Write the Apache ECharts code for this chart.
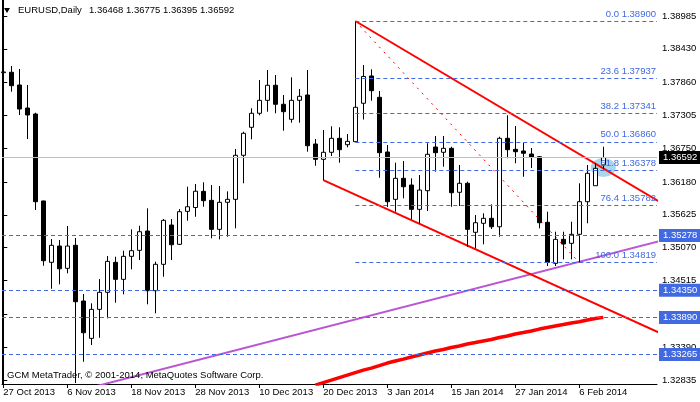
<!DOCTYPE html>
<html><head><meta charset="utf-8">
<script src="https://cdn.jsdelivr.net/npm/echarts@6/dist/echarts.min.js"></script>
<style>html,body{margin:0;padding:0;background:#fff}#c{width:700px;height:402px}</style>
</head><body><div id="c"></div>
<script>
const symbolName = 'EURUSD,Daily';
const copyrightText = 'GCM MetaTrader, \u00a9 2001-2014, MetaQuotes Software Corp.';
const tickLabels = ['27 Oct 2013','6 Nov 2013','18 Nov 2013','28 Nov 2013','10 Dec 2013','20 Dec 2013','3 Jan 2014','15 Jan 2014','27 Jan 2014','6 Feb 2014'];
const tickIndex = [0,8,16,24,32,40,48,56,64,72];
const priceTicks = [1.38985,1.38430,1.37860,1.37305,1.36750,1.36180,1.35625,1.35070,1.34515,1.33945,1.33390,1.32835];

const opens = [1.38027,1.38034,1.37819,1.37430,1.37329,1.35859,1.34823,1.35098,1.34721,1.35110,
1.34169,1.33538,1.34028,1.34316,1.34823,1.34535,1.34924,1.35025,1.35352,1.34343,
1.34789,1.35453,1.35127,1.35684,1.35749,1.36022,1.35870,1.35380,1.35837,1.35887,
1.36631,1.37104,1.37341,1.37560,1.37814,1.37493,1.37239,1.37560,1.37650,1.36822,
1.36563,1.36682,1.36918,1.36810,1.36861,1.37510,1.37971,1.37611,1.36687,1.35887,
1.36242,1.36129,1.35718,1.36033,1.36771,1.36682,1.36749,1.36006,1.36158,1.35330,
1.35482,1.35566,1.35424,1.36918,1.36732,1.36704,1.36653,1.36607,1.35499,1.34806,
1.35211,1.35144,1.35296,1.35847,1.36117,1.36468];
const closes = [1.38039,1.37807,1.37413,1.37312,1.35847,1.34850,1.35110,1.34714,1.35098,1.34157,
1.33633,1.34028,1.34316,1.34839,1.34535,1.34924,1.35019,1.35340,1.34343,1.34789,
1.35532,1.35120,1.35678,1.35762,1.36024,1.35864,1.35380,1.35837,1.35887,1.36631,
1.37003,1.37341,1.37560,1.37814,1.37493,1.37368,1.37560,1.37628,1.36793,1.36563,
1.36682,1.36918,1.36726,1.36867,1.37442,1.37963,1.37723,1.36675,1.35847,1.36242,
1.36100,1.35718,1.36044,1.36648,1.36675,1.36749,1.35999,1.36158,1.35380,1.35492,
1.35566,1.35424,1.36918,1.36726,1.36692,1.36665,1.36597,1.35492,1.34823,1.35211,
1.35132,1.35296,1.35847,1.36327,1.36411,1.36592];
const lows = [1.38005,1.37706,1.37312,1.36906,1.35706,1.34765,1.34376,1.34451,1.34637,1.32783,
1.33143,1.33425,1.33548,1.33876,1.34140,1.34282,1.34704,1.34861,1.34113,1.33961,
1.34579,1.34861,1.35115,1.35526,1.35593,1.35762,1.35228,1.35211,1.35255,1.35397,
1.36158,1.36901,1.37307,1.37368,1.37341,1.37047,1.37182,1.37182,1.36692,1.36455,
1.36213,1.36619,1.36506,1.36766,1.36856,1.37236,1.37554,1.36252,1.35757,1.35678,
1.35904,1.35549,1.35482,1.35690,1.36354,1.36438,1.35762,1.35774,1.35086,1.35059,
1.35127,1.35385,1.35255,1.36580,1.36496,1.36269,1.36416,1.35397,1.34760,1.34760,
1.34873,1.34873,1.34819,1.35482,1.36117,1.36395];
const highs = [1.38056,1.38140,1.38089,1.37819,1.37351,1.35865,1.35216,1.35199,1.35436,1.35233,
1.34287,1.34130,1.34540,1.34929,1.34917,1.35019,1.35380,1.35441,1.35735,1.34833,
1.35554,1.35554,1.35723,1.36100,1.36146,1.36175,1.36129,1.36112,1.36022,1.36737,
1.37030,1.37425,1.37903,1.38072,1.37988,1.37650,1.37949,1.37751,1.38072,1.36906,
1.37058,1.37121,1.37104,1.36991,1.38900,1.38157,1.38084,1.37718,1.36805,1.36506,
1.36535,1.36242,1.36298,1.36834,1.36957,1.36957,1.36776,1.36467,1.36185,1.35622,
1.35651,1.35803,1.36945,1.37307,1.37126,1.36844,1.36754,1.36619,1.35678,1.35340,
1.35340,1.35509,1.36158,1.36467,1.36496,1.36775];

const maStart = 39;
const maValues = [1.32749,1.32791,1.32833,1.32876,1.32918,1.32960,1.33002,1.33036,1.33078,1.33121,
1.33155,1.33188,1.33222,1.33256,1.33290,1.33324,1.33349,1.33383,1.33408,1.33442,
1.33467,1.33493,1.33518,1.33552,1.33577,1.33611,1.33636,1.33662,1.33695,1.33721,
1.33746,1.33771,1.33797,1.33819,1.33847,1.33873,1.33893];

const fibLevels = [0.0, 23.6, 38.2, 50.0, 61.8, 76.4, 100.0];
const fibPrices = [1.38900, 1.37937, 1.37341, 1.36860, 1.36378, 1.35782, 1.34819];
const fibStartIndex = 44;
const hLevels = [1.35278, 1.34350, 1.33890, 1.33265];
const lastPrice = 1.36592;
const channelUpper = [[44, 1.38900], [82, 1.35849]];
const channelLower = [[40, 1.36213], [82, 1.33635]];
const fibDiagonal = [[44, 1.38900], [72, 1.34819]];
const purpleTrend = [[10, 1.32674], [82, 1.35180]];
const ellipsePoint = [[75, 1.36425]];

const FONT = 'Liberation Sans';
const xMin = -0.1625, xMax = 81.7125;
const yMin = 1.32767, yMax = 1.39255;

const chart = echarts.init(document.getElementById('c'));
const candleData = opens.map((o, i) => [i, o, closes[i], lows[i], highs[i]]);
const maData = maValues.map((v, i) => [maStart + i, v]);
const last = opens.length - 1;

function boxLabel(v, bg) {
  return { show: true, position: 'end', formatter: v.toFixed(5), backgroundColor: bg, color: '#fff',
    padding: [2, 6, 1, 4], distance: 2, fontSize: 9.5, fontFamily: FONT };
}

chart.setOption({
  animation: false,
  backgroundColor: '#ffffff',
  grid: { left: 2, top: 0, width: 655, height: 384, containLabel: false },
  xAxis: {
    type: 'value', min: xMin, max: xMax,
    axisLine: { show: true, lineStyle: { color: '#000', width: 1 } },
    axisTick: { show: true, customValues: tickIndex, length: 4, inside: false, lineStyle: { color: '#000' } },
    axisLabel: { show: true, customValues: tickIndex, formatter: v => tickLabels[tickIndex.indexOf(Math.round(v))] || '',
      align: 'left', margin: 3, color: '#000', fontSize: 9.5, fontFamily: FONT },
    splitLine: { show: false }
  },
  yAxis: [{
    type: 'value', position: 'right', min: yMin, max: yMax,
    axisLine: { show: true, lineStyle: { color: '#000', width: 1 } },
    axisTick: { show: true, customValues: priceTicks, length: 4, lineStyle: { color: '#000' } },
    axisLabel: { show: true, customValues: priceTicks, formatter: v => v.toFixed(5), margin: 5,
      color: '#000', fontSize: 9.5, fontFamily: FONT },
    splitLine: { show: false }
  }, {
    type: 'value', position: 'left', min: yMin, max: yMax,
    axisLine: { show: true, lineStyle: { color: '#000', width: 1 } },
    axisTick: { show: false }, axisLabel: { show: false }, splitLine: { show: false }
  }],
  graphic: [
    { type: 'polygon', shape: { points: [[4, 8], [10, 8], [7, 13]] }, style: { fill: '#000' } },
    { type: 'text', left: 18, top: 5, style: { text: symbolName, fill: '#000', font: '9.5px "' + FONT + '"' } },
    { type: 'text', left: 89, top: 5, style: { text: [opens[last], highs[last], lows[last], closes[last]].map(v => v.toFixed(5)).join(' '), fill: '#000', font: '9.5px "' + FONT + '"' } },
    { type: 'text', left: 7, top: 370, z: 100, style: { text: copyrightText, fill: '#000', font: '9.5px "' + FONT + '"' } }
  ],
  series: [
    {
      name: 'levels', type: 'line', data: purpleTrend, symbol: 'none', lineStyle: { opacity: 0 }, z: 1,
      markLine: {
        silent: true, symbol: ['none', 'none'], animation: false,
        data: [
          ...hLevels.map(v => [
            { coord: [xMin, v], lineStyle: { color: '#4169E1', type: [4, 3], width: 1 }, label: boxLabel(v, '#4169E1') },
            { coord: [xMax, v] }
          ]),
          [
            { coord: [xMin, lastPrice], lineStyle: { color: '#C0C0C0', type: 'solid', width: 1 }, label: boxLabel(lastPrice, '#000') },
            { coord: [xMax, lastPrice] }
          ],
          ...fibPrices.map((p, i) => [
            { coord: [fibStartIndex, p], lineStyle: { color: '#4169E1', type: [4, 3], width: 1 },
              label: { show: true, position: 'insideEndTop', formatter: fibLevels[i].toFixed(1) + ' ' + p.toFixed(5),
                color: '#4169E1', fontSize: 9.5, fontFamily: FONT, distance: [1, 2] } },
            { coord: [xMax, p] }
          ])
        ]
      }
    },
    { name: 'ellipse', type: 'scatter', data: ellipsePoint, symbol: 'circle', symbolSize: [25, 19], z: 2,
      itemStyle: { color: '#A9D6EA', opacity: 1 }, silent: true },
    { name: 'purple', type: 'line', data: purpleTrend, showSymbol: false, symbol: 'none', clip: true, z: 3,
      lineStyle: { color: '#BA55D3', width: 2 } },
    { name: 'ma', type: 'line', data: maData, showSymbol: false, symbol: 'none', clip: true, z: 3,
      lineStyle: { color: '#FF0000', width: 3.5 } },
    { name: 'upper', type: 'line', data: channelUpper, showSymbol: false, symbol: 'none', clip: true, z: 3,
      lineStyle: { color: '#FF0000', width: 2 } },
    { name: 'lower', type: 'line', data: channelLower, showSymbol: false, symbol: 'none', clip: true, z: 3,
      lineStyle: { color: '#FF0000', width: 2 } },
    { name: 'diag', type: 'line', data: fibDiagonal, showSymbol: false, symbol: 'none', clip: true, z: 3,
      lineStyle: { color: '#FF0000', width: 1, type: [2, 5] } },
    {
      name: 'EURUSD', type: 'candlestick', data: candleData, barWidth: 4, z: 4,
      itemStyle: { color: '#ffffff', color0: '#000000', borderColor: '#000000', borderColor0: '#000000', borderWidth: 1 }
    }
  ]
});
</script>
</body></html>
